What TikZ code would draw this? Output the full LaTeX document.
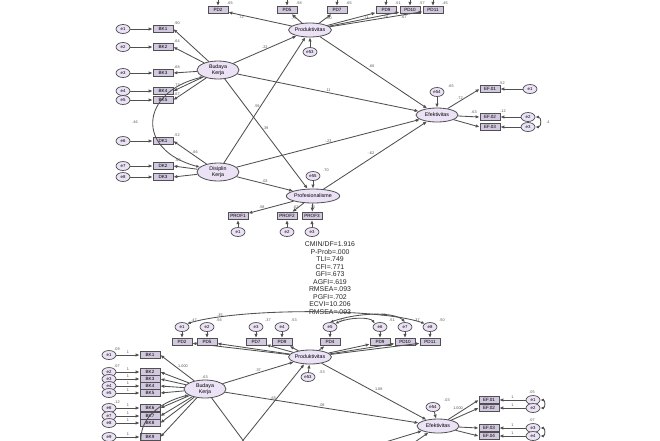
\documentclass[tikz,border=0pt]{standalone}
\usepackage{fontspec}
\setmainfont{Liberation Sans}
\usetikzlibrary{shapes.geometric,arrows.meta}
\definecolor{lav}{RGB}{236,226,246}
\definecolor{boxc}{RGB}{210,200,224}
\definecolor{ln}{RGB}{80,80,80}
\tikzset{
 lat/.style={ellipse,draw=ln,fill=lav,line width=0.8pt,minimum width=42pt,minimum height=14pt,inner sep=0pt,font=\fontsize{5.3pt}{5.8pt}\selectfont,align=center},
 obs/.style={rectangle,draw=ln,fill=boxc,line width=0.7pt,minimum width=20pt,minimum height=7.5pt,inner sep=0pt,font=\fontsize{4.6pt}{5pt}\selectfont},
 err/.style={ellipse,draw=ln,fill=lav,line width=0.7pt,minimum width=14pt,minimum height=9pt,inner sep=0pt,font=\fontsize{4.3pt}{4.6pt}\selectfont},
 arr/.style={draw=ln,line width=0.85pt,-{Latex[length=4pt,width=3.4pt]}},
 darr/.style={draw=ln,line width=0.85pt,{Latex[length=3.5pt,width=3pt]}-{Latex[length=3.5pt,width=3pt]}},
 lbl/.style={font=\fontsize{3.8pt}{4.2pt}\selectfont,text=ln,inner sep=0.6pt},
 fitstat/.style={font=\fontsize{6.9pt}{7.45pt}\selectfont,align=center,text=black!85}
}
\begin{document}
\begin{tikzpicture}[x=1pt,y=-1pt]
\useasboundingbox (0,0) rectangle (660,440);
\clip (0,0) rectangle (660,440);

% ================= upper model =================
\node[lat] (prodA) at (310,30) {Produktivitas};
\node[err] (e53A) at (310,52) {e53};
\draw[arr] (e53A) -- (prodA);
\foreach \i/\x/\nm/\ld/\lv in {1/218/PD2/.72/.65, 2/287/PD5/.75/.58, 3/337/PD7/.80/.65, 4/386/PD9/.71/.51, 5/410/PD10/.76/.57, 6/433/PD11/.67/.45} {
  \node[obs] (pdA\i) at (\x,10) {\nm};
  \coordinate (tA\i) at (\x,-8);
  \draw[arr] (tA\i) -- (pdA\i);
  \node[lbl] at (\x+12,3) {\lv};
  \draw[arr] (prodA) -- node[lbl,pos=0.8,below]{\ld} (pdA\i);
}

\node[lat,minimum height=18pt] (budA) at (218,70) {Budaya\\Kerja};
\foreach \i/\y/\lv in {1/29/.90, 2/47/.64, 3/73/.68, 4/91/.73, 5/100/.67} {
  \node[obs] (bkA\i) at (163,\y) {BK\i};
  \node[err] (ebA\i) at (123,\y) {e\i};
  \draw[arr] (ebA\i) -- (bkA\i);
  \draw[arr] (budA) -- (bkA\i.east);
  \node[lbl] at (177,\y-6) {\lv};
}

\node[lat,minimum height=18pt] (disA) at (218,172) {Disiplin\\Kerja};
\foreach \i/\y/\lv/\en in {1/141/.72/e6, 2/166/.81/e7, 3/177/.77/e8} {
  \node[obs] (dkA\i) at (163,\y) {DK\i};
  \node[err] (edA\i) at (123,\y) {\en};
  \draw[arr] (edA\i) -- (dkA\i);
  \draw[arr] (disA) -- (dkA\i.east);
}
\node[lbl] at (177,135) {.52};
\node[lbl] at (195,152) {.66};
\node[lbl] at (178,160) {.62};
\draw[darr] (budA.205) .. controls (140,92) and (135,150) .. (disA.165);
\node[lbl] at (135,122) {.46};

\node[lat,minimum width=46pt] (profA) at (313,196) {Profesionalisme};
\node[err] (e55A) at (313,176) {e55};
\draw[arr] (e55A) -- (profA);
\node[lbl] at (326,170) {.70};
\foreach \i/\x/\ld in {1/238/.58, 2/287/.62, 3/312/.70} {
  \node[obs] (ppA\i) at (\x,216) {PROF\i};
  \node[err] (epA\i) at (\x,232) {e\i};
  \draw[arr] (epA\i) -- (ppA\i);
  \draw[arr] (profA) -- node[lbl,pos=0.7,above]{\ld} (ppA\i);
}

\node[lat] (efA) at (437,115) {Efektivitas};
\node[err] (e54A) at (437,92) {e54};
\draw[arr] (e54A) -- (efA);
\node[lbl] at (451,86) {.65};
\foreach \i/\y/\ex in {1/89/530, 2/117/528, 3/127/528} {
  \node[obs] (efbA\i) at (490,\y) {EF.0\i};
  \node[err] (eeA\i) at (\ex,\y) {e\i};
  \draw[arr] (eeA\i) -- (efbA\i);
  \draw[arr] (efA) -- (efbA\i.west);
}
\node[lbl] at (460,98) {.72};
\node[lbl] at (474,112) {.63};
\node[lbl] at (502,83) {.52};
\node[lbl] at (503,111) {.12};
\draw[darr] (eeA2.east) to[out=0,in=0,looseness=1.6] (eeA3.east);
\node[lbl] at (548,122) {.4};

\draw[arr] (budA) -- node[lbl,pos=0.5,above]{.22} (prodA);
\draw[arr] (budA) -- node[lbl,pos=0.5,above]{.11} (efA);
\draw[arr] (budA) -- node[lbl,pos=0.45,right]{.39} (profA);
\draw[arr] (disA) -- node[lbl,pos=0.45,left]{.59} (prodA);
\draw[arr] (disA) -- node[lbl,pos=0.5,above]{-.23} (efA);
\draw[arr] (disA) -- node[lbl,pos=0.5,above]{.03} (profA);
\draw[arr] (prodA) -- node[lbl,pos=0.45,above right]{.66} (efA);
\draw[arr] (profA) -- node[lbl,pos=0.5,above left]{-.62} (efA);

% ================= fit statistics =================
\node[fitstat] (fit) at (330,278) {CMIN/DF=1.916\\P-Prob=.000\\TLI=.749\\CFI=.771\\GFI=.673\\AGFI=.619\\RMSEA=.093\\PGFI=.702\\ECVI=10.206\\RMSEA=.093};

% ================= lower model =================
\node[lat] (prodB) at (310,357) {Produktivitas};
\node[err] (e53B) at (308,377) {e53};
\draw[arr] (e53B) -- (prodB);
\node[lbl] at (322,372) {.53};
\foreach \i/\x/\nm/\lv in {1/182/PD2/.47, 2/207/PD5/.56, 3/256/PD7/.37, 4/282/PD9/.53, 5/330/PD4/.42, 6/380/PD9/.51, 7/405/PD10/.37, 8/430/PD11/.50} {
  \node[obs] (pdB\i) at (\x,342) {\nm};
  \node[err] (epB\i) at (\x,327) {e\i};
  \draw[arr] (epB\i) -- (pdB\i);
  \node[lbl] at (\x+12,320) {\lv};
  \draw[arr] (prodB) -- (pdB\i);
}
\draw[darr] (epB1.north east) .. controls (240,308) and (380,308) .. (epB8.north west);
\draw[darr] (epB5.north east) .. controls (350,317) and (370,317) .. (epB6.north west);
\draw[darr] (epB5.north) .. controls (360,312) and (395,312) .. (epB7.north);
\node[lbl] at (383,315) {.29};
\node[lbl] at (220,315) {.35};

\node[lat,minimum height=18pt] (budB) at (205,389) {Budaya\\Kerja};
\foreach \i/\y in {1/355, 2/372, 3/379, 4/386, 5/393, 6/408, 7/416, 8/423, 9/437} {
  \node[obs] (bkB\i) at (150,\y) {BK\i};
  \node[err] (ebB\i) at (109,\y) {e\i};
  \draw[arr] (ebB\i) -- node[lbl,above]{1} (bkB\i);
  \draw[arr] (budB) -- (bkB\i.east);
}
\node[lbl] at (117,349) {.09};
\node[lbl] at (117,366) {.07};
\node[lbl] at (117,402) {.12};
\node[lbl] at (183,366) {1.000};
\node[lbl] at (205,377) {.63};
\coordinate (disB) at (195,500);
\coordinate (profB) at (302,520);
\draw[darr] (budB.200) .. controls (130,410) and (120,460) .. (disB);

\node[lat] (efB) at (438,426) {Efektivitas};
\node[err] (e54B) at (433,407) {e54};
\draw[arr] (e54B) -- (efB);
\node[lbl] at (447,400) {.03};
\node[lbl] at (458,408) {1.000};
\foreach \i/\y in {1/400, 2/408, 3/428, 4/436} {
  \node[obs] (efbB\i) at (489,\y) {EF.0\i};
  \node[err] (eeB\i) at (533,\y) {e\i};
  \draw[arr] (eeB\i) -- node[lbl,above]{1} (efbB\i);
  \draw[arr] (efB) -- (efbB\i.west);
}
\draw[darr] (eeB1.east) to[out=0,in=0,looseness=1.6] (eeB2.east);
\draw[darr] (eeB3.east) to[out=0,in=0,looseness=1.6] (eeB4.east);
\node[lbl] at (532,392) {.05};
\node[lbl] at (532,420) {.07};

\draw[arr] (budB) -- node[lbl,pos=0.5,above]{.37} (prodB);
\draw[arr] (budB) -- node[lbl,pos=0.5,above]{.08} (efB);
\draw[arr] (budB) -- (profB);
\draw[arr] (disB) -- node[lbl,pos=0.75,left]{.65} (prodB);
\draw[arr] (disB) -- (efB);
\draw[arr] (profB) -- (efB);
\draw[arr] (prodB) -- node[lbl,pos=0.5,above right]{1.08} (efB);
\end{tikzpicture}
\end{document}
